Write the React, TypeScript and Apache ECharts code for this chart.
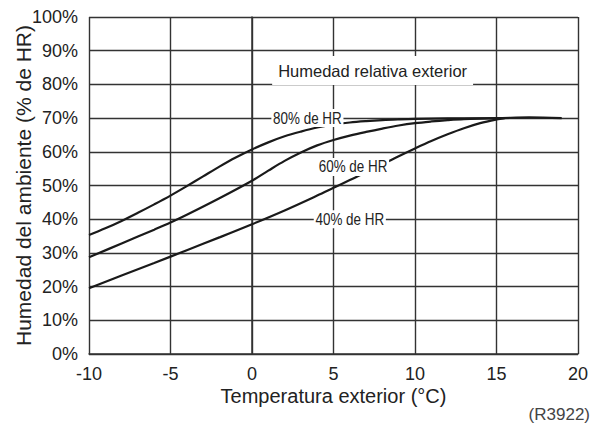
import React, { useEffect, useRef } from "react";
import * as echarts from "echarts";

const FONT = "'Liberation Sans', Arial, Helvetica, sans-serif";

// Outside temperature (°C) and indoor humidity (%) for each outdoor RH curve
const temp80 = [-10, -9, -8, -7, -6, -5, -4, -3, -2, -1, 0, 1, 2, 3, 4, 5, 6, 7, 8, 9, 10, 12, 15, 17, 19];
const hum80 = [35.3, 37.3, 39.5, 41.9, 44.4, 47.0, 49.8, 52.7, 55.6, 58.3, 60.7, 62.8, 64.6, 66.0, 67.2, 68.1, 68.7, 69.1, 69.4, 69.6, 69.75, 69.9, 70.0, 70.2, 70.0];

const temp60 = [-10, -8, -6, -5, -4, -2, 0, 1, 2, 3, 4, 5, 6, 7, 8, 9, 10, 11, 12, 13, 15];
const hum60 = [28.7, 32.8, 36.9, 39.0, 41.3, 46.2, 51.4, 54.4, 57.3, 59.8, 61.9, 63.5, 64.8, 65.9, 66.9, 67.8, 68.5, 69.0, 69.4, 69.7, 70.0];

const temp40 = [-10, -8, -6, -4, -2, 0, 2, 4, 5, 6, 7, 8, 9, 10, 11, 12, 13, 14, 15, 15.5];
const hum40 = [19.5, 23.3, 27.0, 30.8, 34.6, 38.5, 42.6, 47.0, 49.3, 51.6, 53.9, 56.3, 58.7, 61.0, 63.2, 65.2, 67.0, 68.5, 69.6, 70.0];

// Axis settings
const xMin = -10;
const xMax = 20;
const xStep = 5;
const yMin = 0;
const yMax = 100;
const yStep = 10;

// Annotations: [text, x, y]
const curveLabels: [string, number, number][] = [
  ["80% de HR", 3.4, 70],
  ["60% de HR", 6.2, 55.5],
  ["40% de HR", 6.0, 40],
];
const legendTitle: [string, number, number] = ["Humedad relativa exterior", 7.4, 84.1];

const pairs = (xs: number[], ys: number[]) => xs.map((x, i) => [x, ys[i]]);

export default function App() {
  const ref = useRef<HTMLDivElement>(null);
  useEffect(() => {
    if (!ref.current) return;
    const chart = echarts.init(ref.current, undefined, { renderer: "svg" });
    const lineStyle = { color: "#1a1a1a", width: 2.2 };
    chart.setOption({
      animation: false,
      backgroundColor: "#ffffff",
      grid: { left: 89, top: 17, right: 16, bottom: 78 },
      xAxis: {
        type: "value",
        min: xMin,
        max: xMax,
        interval: xStep,
        name: "Temperatura exterior (°C)",
        nameLocation: "middle",
        nameGap: 32,
        nameMoveOverlap: false,
        nameTextStyle: { fontFamily: FONT, fontSize: 20, color: "#222" },
        axisLine: { show: true, onZero: false, lineStyle: { color: "#333", width: 1.5 } },
        axisTick: { show: false },
        axisLabel: { fontFamily: FONT, fontSize: 18, color: "#222", margin: 11 },
        splitLine: { show: true, lineStyle: { color: "#333", width: 1.4 } },
      },
      yAxis: {
        type: "value",
        min: yMin,
        max: yMax,
        interval: yStep,
        name: "Humedad del ambiente (% de HR)",
        nameLocation: "middle",
        nameGap: 55,
        nameMoveOverlap: false,
        nameTextStyle: { fontFamily: FONT, fontSize: 21, color: "#222" },
        axisLine: { show: true, lineStyle: { color: "#333", width: 1.5 } },
        axisTick: { show: false },
        axisLabel: { fontFamily: FONT, fontSize: 18, color: "#222", margin: 11, formatter: "{value}%" },
        splitLine: { show: true, lineStyle: { color: "#333", width: 1.4 } },
      },
      series: [
        { type: "line", data: pairs(temp80, hum80), smooth: 0.35, showSymbol: false, lineStyle, z: 3 },
        { type: "line", data: pairs(temp60, hum60), smooth: 0.35, showSymbol: false, lineStyle, z: 3 },
        { type: "line", data: pairs(temp40, hum40), smooth: 0.35, showSymbol: false, lineStyle, z: 3 },
      ],
    });

    const toPx = (x: number, y: number) => chart.convertToPixel({ gridIndex: 0 }, [x, y]) as number[];
    const graphic: any[] = [];
    curveLabels.forEach(([t, x, y]) => {
      const [px, py] = toPx(x, y);
      graphic.push({
        type: "text",
        x: px,
        y: py,
        scaleX: 0.84,
        z: 10,
        style: {
          text: t,
          fontFamily: FONT,
          fontSize: 16,
          fill: "#222",
          align: "center",
          verticalAlign: "middle",
          backgroundColor: "#ffffff",
          padding: [1, 2],
        },
      });
    });
    {
      const [t, x, y] = legendTitle;
      const [px, py] = toPx(x, y);
      graphic.push({
        type: "text",
        x: px,
        y: py,
        z: 10,
        style: {
          text: t,
          fontFamily: FONT,
          fontSize: 16.5,
          fill: "#222",
          align: "center",
          verticalAlign: "middle",
          backgroundColor: "#ffffff",
          padding: [6, 6],
        },
      });
    }
    graphic.push({
      type: "text",
      x: 590,
      y: 414,
      style: { text: "(R3922)", fontFamily: FONT, fontSize: 17, fill: "#444", align: "right", verticalAlign: "middle" },
    });
    chart.setOption({ graphic });

    return () => chart.dispose();
  }, []);
  return <div ref={ref} style={{ position: "fixed", left: 0, top: 0, width: 594, height: 432 }} />;
}
